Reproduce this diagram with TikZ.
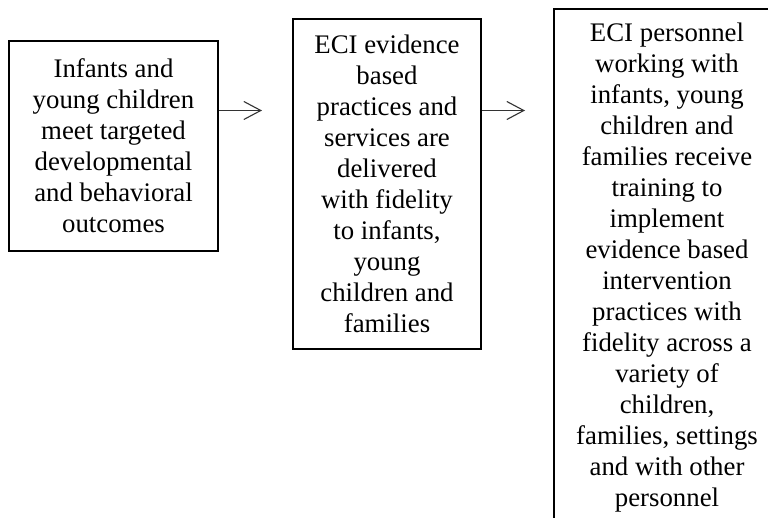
\documentclass[tikz,border=0pt]{standalone}
\usepackage{fontspec}
\setmainfont{Liberation Serif}
\usetikzlibrary{arrows.meta}
\begin{document}
\begin{tikzpicture}[x=1pt,y=1pt,
  box/.style={draw=black, line width=2.4pt, inner sep=0pt, align=center,
    font=\fontsize{26.8}{31}\selectfont},
  arr/.style={line width=1.1pt, draw=black!80, -{Straight Barb[length=17pt,width=18pt,line width=1.1pt]}}]
\useasboundingbox (0,0) rectangle (768,-518);
\clip (0,0) rectangle (768,-518);
\fill[white] (0,0) rectangle (768,-518);
\node[box, minimum width=209pt, minimum height=210pt] (b1) at (113.5,-146)
  {Infants and\\young children\\meet targeted\\developmental\\and behavioral\\outcomes};
\node[box, minimum width=188pt, minimum height=330pt] (b2) at (387,-184)
  {ECI evidence\\based\\practices and\\services are\\delivered\\with fidelity\\to infants,\\young\\children and\\families};
\node[box, minimum width=226pt, minimum height=518pt] (b3) at (667,-268)
  {ECI personnel\\working with\\infants, young\\children and\\families receive\\training to\\implement\\evidence based\\intervention\\practices with\\fidelity across a\\variety of\\children,\\families, settings\\and with other\\personnel};
\coordinate (t1) at (262,-110.5);
\coordinate (t2) at (525,-110.5);
\draw[arr] (b1.east |- t1) -- (t1);
\draw[arr] (b2.east |- t2) -- (t2);
\end{tikzpicture}
\end{document}
